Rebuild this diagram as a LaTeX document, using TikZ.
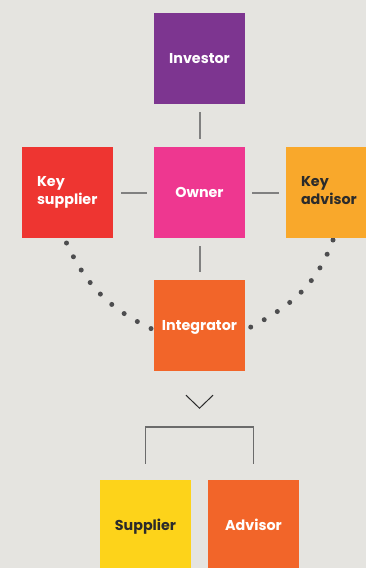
\documentclass[tikz,border=0pt]{standalone}
\usepackage{fontspec}
\setmainfont{Poppins}
\usepackage{xcolor}
\usetikzlibrary{positioning, arrows.meta}
\definecolor{bgcol}{HTML}{E5E4E0}
\definecolor{investorcol}{HTML}{7D3590}
\definecolor{ownercol}{HTML}{EE3790}
\definecolor{keysupcol}{HTML}{EE3531}
\definecolor{keyadvcol}{HTML}{F9A82B}
\definecolor{integcol}{HTML}{F26529}
\definecolor{suppliercol}{HTML}{FDD31A}
\definecolor{linecol}{HTML}{808080}
\definecolor{dotcol}{HTML}{4D4D4F}
\definecolor{darktext}{HTML}{2B2B2B}

\begin{document}
\begin{tikzpicture}[x=1pt, y=1pt,
  square/.style={rectangle, minimum size=91pt, inner sep=0pt, text=white,
    font=\fontsize{14.3}{18.5}\selectfont\bfseries},
  block/.style={square, text height=12pt, text depth=2pt},
  sideblock/.style={square, text width=61pt, align=left},
  link/.style={linecol, line width=2pt},
  dots/.style={dotcol, line width=5pt, line cap=round, dash pattern=on 0pt off 15.4pt}]
  % Background
  \fill[bgcol] (0,0) rectangle (366,-568);
  \useasboundingbox (0,0) rectangle (366,-568);
  \clip (0,0) rectangle (366,-568);

  % Dotted arcs (behind the blocks)
  \coordinate (dl) at (66.5,-243);
  \coordinate (dr) at (333,-240);
  \coordinate (il) at (154,-330);
  \coordinate (ir) at (247,-329);
  \draw [dots] (dl) to[out=-65, in=155] (il);
  \draw [dots] (dr) to[out=-110, in=27] (ir);

  % Define blocks
  \node [block, fill=investorcol] (investor) at (199.5,-58.5) {Investor};
  \node [block, fill=ownercol] (owner) at (199.5,-192.5) {Owner};
  \node [sideblock, fill=keysupcol] (keysup) at (67.5,-192.5) {Key\\supplier};
  \node [sideblock, fill=keyadvcol, text=darktext] (keyadv) at (331.5,-192.5) {Key\\advisor\vphantom{p}};
  \node [block, fill=integcol] (integ) at (199.5,-325.5) {Integrator};
  \node [block, fill=suppliercol, text=darktext] (supplier) at (145.5,-525.5) {Supplier};
  \node [block, fill=integcol] (advisor) at (253.5,-525.5) {Advisor};

  % Connect blocks with short lines
  \draw [link] ([yshift=-8pt]investor.south) -- ([yshift=8pt]owner.north);
  \draw [link] ([xshift=8pt]keysup.east) -- ([xshift=-7pt]owner.west);
  \draw [link] ([xshift=7pt]owner.east) -- ([xshift=-7pt]keyadv.west);
  \draw [link] ([yshift=-8pt]owner.south) -- ([yshift=8pt]integ.north);

  % Chevron and bracket
  \draw [darktext, line width=1pt] ([xshift=-13.5pt, yshift=-24pt]integ.south)
    -- ([yshift=-37pt]integ.south) -- ([xshift=13.5pt, yshift=-24pt]integ.south);
  \draw [darktext!70, line width=1.5pt] ([yshift=16pt]supplier.north)
    |- ([yshift=53pt]advisor.north) -- ([yshift=16pt]advisor.north);
\end{tikzpicture}
\end{document}
